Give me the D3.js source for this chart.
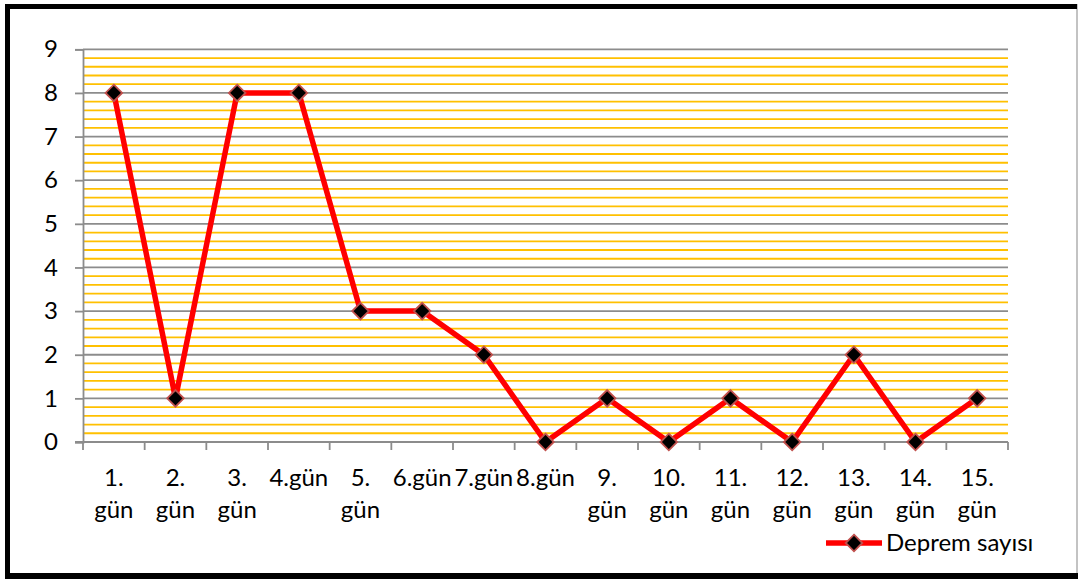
<!DOCTYPE html>
<html><head><meta charset="utf-8">
<script src="https://cdn.jsdelivr.net/npm/d3@7"></script>
<style>body{margin:0;background:#fff}svg{display:block}text{font-family:Lato,"Open Sans",sans-serif;fill:#000}</style>
</head><body>
<svg id="c" width="1078" height="579"></svg>
<script>
const categories = ["1. gün","2. gün","3. gün","4.gün","5. gün","6.gün","7.gün","8.gün","9. gün","10. gün","11. gün","12. gün","13. gün","14. gün","15. gün"];
const values = [8,1,8,8,3,3,2,0,1,0,1,0,2,0,1];
const yTicks = [0,1,2,3,4,5,6,7,8,9];
const seriesName = "Deprem sayısı";

const svg = d3.select("#c");
const L = 83, R = 1008, T = 49.3, B = 442;
const x = d3.scaleBand().domain(categories).range([L, R]);
const y = d3.scaleLinear().domain([0, 9]).range([B, T]);

// border
svg.append("rect").attr("x",0).attr("y",0).attr("width",1078).attr("height",579).attr("fill","#fff");
svg.append("rect").attr("x",1076.5).attr("y",4).attr("width",1).attr("height",574).attr("fill","#888");
svg.append("rect").attr("x",5).attr("y",4).attr("width",1072).attr("height",5).attr("fill","#000");
svg.append("rect").attr("x",5).attr("y",4).attr("width",5).attr("height",575).attr("fill","#000");
svg.append("rect").attr("x",5).attr("y",573).attr("width",1073).attr("height",6).attr("fill","#000");

// minor gridlines
const minor = d3.range(0, 9.001, 0.2).filter(v => Math.abs(v - Math.round(v)) > 1e-6);
svg.append("g").selectAll("line").data(minor).join("line")
  .attr("x1", L).attr("x2", R).attr("y1", d => y(d)).attr("y2", d => y(d))
  .attr("stroke", "#FFC000").attr("stroke-width", 1.8);
// major gridlines
svg.append("g").selectAll("line").data(yTicks.filter(d => d > 0)).join("line")
  .attr("x1", L).attr("x2", R).attr("y1", d => y(d)).attr("y2", d => y(d))
  .attr("stroke", "#8c8c8c").attr("stroke-width", 1.8);

// y axis
const yAxis = svg.append("g").attr("transform", `translate(${L},0)`)
  .call(d3.axisLeft(y).tickValues(yTicks).tickSize(8).tickPadding(17).tickFormat(d3.format("d")));
yAxis.select(".domain").attr("stroke", "#8c8c8c").attr("stroke-width", 1.8);
yAxis.selectAll(".tick line").attr("stroke", "#8c8c8c").attr("stroke-width", 1.8);
yAxis.selectAll("text").attr("font-size", 24).attr("font-family", "Lato").attr("fill", "#000");

// x axis
const xg = svg.append("g");
xg.append("line").attr("x1", L - 8).attr("x2", R).attr("y1", B).attr("y2", B)
  .attr("stroke", "#8c8c8c").attr("stroke-width", 1.8);
const bounds = categories.map(c => x(c)).concat([x(categories[categories.length - 1]) + x.bandwidth()]);
xg.selectAll("line.t").data(bounds).join("line").attr("class", "t")
  .attr("x1", d => d).attr("x2", d => d).attr("y1", B).attr("y2", B + 8)
  .attr("stroke", "#8c8c8c").attr("stroke-width", 1.8);
const lbl = xg.selectAll("text").data(categories).join("text")
  .attr("text-anchor", "middle").attr("font-size", 24)
  .attr("x", d => x(d) + x.bandwidth() / 2).attr("y", 486);
lbl.each(function(d) {
  const parts = d.split(" ");
  const t = d3.select(this);
  parts.forEach((p, i) => t.append("tspan").attr("x", x(d) + x.bandwidth() / 2).attr("dy", i ? 32 : 0).text(p));
});

// line
const cx = d => x(d) + x.bandwidth() / 2;
const line = d3.line().x((d, i) => cx(categories[i])).y(d => y(d));
svg.append("path").datum(values).attr("d", line).attr("fill", "none")
  .attr("stroke", "#FF0000").attr("stroke-width", 5.5).attr("stroke-linejoin", "round");

const diamond = d3.symbol().type(d3.symbolDiamond2).size(175);
svg.append("g").selectAll("path").data(values).join("path")
  .attr("transform", (d, i) => `translate(${cx(categories[i])},${y(d)})`)
  .attr("d", diamond).attr("fill", "#000").attr("stroke", "#C0504D").attr("stroke-width", 1.8);

// legend
const lg = svg.append("g");
lg.append("line").attr("x1", 826).attr("x2", 882).attr("y1", 543).attr("y2", 543)
  .attr("stroke", "#FF0000").attr("stroke-width", 5.5);
lg.append("path").attr("transform", "translate(854,543)").attr("d", diamond)
  .attr("fill", "#000").attr("stroke", "#C0504D").attr("stroke-width", 1.8);
lg.append("text").attr("x", 886).attr("y", 551).attr("font-size", 24).text(seriesName);
</script>
</body></html>
